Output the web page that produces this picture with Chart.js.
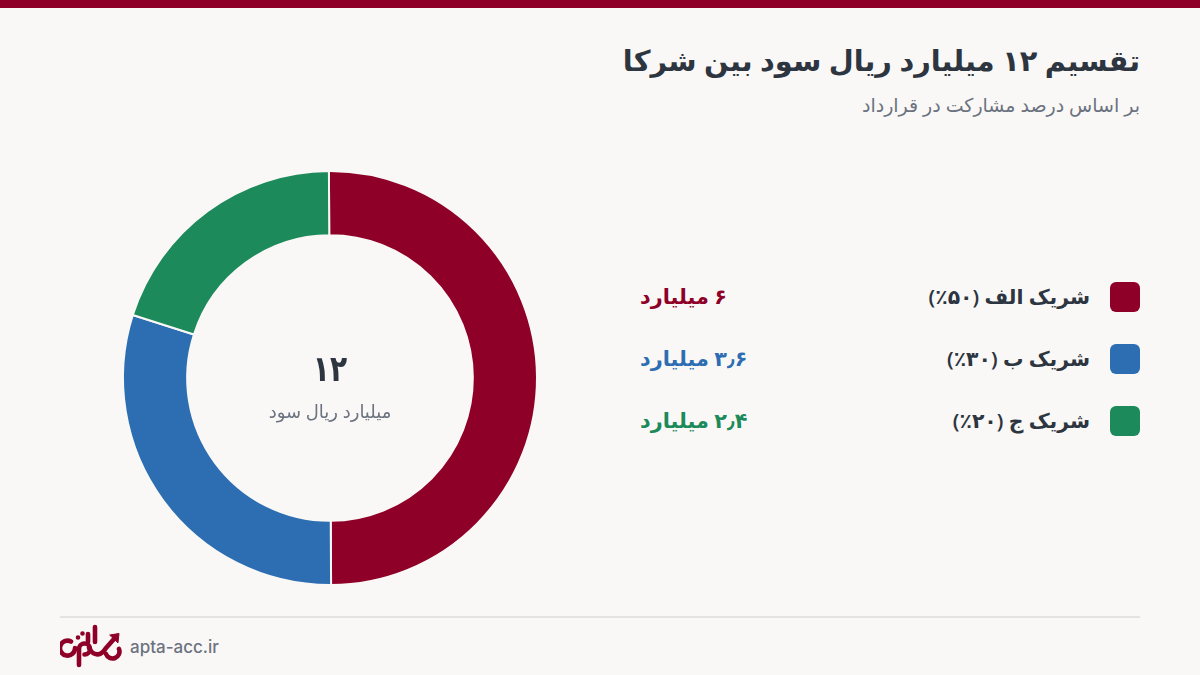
<!DOCTYPE html>
<html lang="fa">
<head>
<meta charset="utf-8">
<title>تقسیم ۱۲ میلیارد ریال سود بین شرکا</title>
<script src="https://cdn.jsdelivr.net/npm/chart.js@4"></script>
<style>
    html, body { margin: 0; padding: 0; }
    body { width: 1200px; height: 675px; position: relative; overflow: hidden; background: #faf8f6; font-family: "Noto Sans", "DejaVu Sans", sans-serif; }
    .topbar { position: absolute; left: 0; top: 0; width: 1200px; height: 8px; background: #8f0028; }
    h1 { position: absolute; right: 60px; top: 38px; margin: 0; font-size: 28.8px; line-height: 44px; font-weight: 700; color: #2d3540; direction: rtl; white-space: nowrap; }
    .sub { position: absolute; right: 60px; top: 91px; font-size: 19px; line-height: 28px; color: #6b7280; direction: rtl; white-space: nowrap; }
    #chartBox { position: absolute; left: 110px; top: 157.5px; width: 440px; height: 440px; }
    .center { position: absolute; left: 230px; width: 200px; text-align: center; direction: rtl; white-space: nowrap; }
    #centerNum { top: 343px; font-size: 36px; line-height: 50px; font-weight: 700; color: #2d3540; transform: scaleX(0.78); }
    #centerLabel { top: 397px; font-size: 18px; line-height: 28px; color: #6b7280; }
    .swatch { position: absolute; left: 1110px; width: 30px; height: 30px; border-radius: 6px; }
    .name { position: absolute; right: 110px; font-size: 20.4px; line-height: 30px; font-weight: 600; color: #2d3540; direction: rtl; white-space: nowrap; }
    .amount { position: absolute; left: 640px; font-size: 20.8px; line-height: 30px; font-weight: 700; direction: rtl; white-space: nowrap; }
    .footline { position: absolute; left: 60px; top: 616px; width: 1080px; height: 2px; background: #e5e3df; }
    .logo { position: absolute; left: 60px; top: 624px; }
    .site { position: absolute; left: 130px; top: 633px; font-family: Inter, Roboto, sans-serif; font-size: 17px; line-height: 28px; font-weight: 500; color: #6b7280; }
</style>
</head>
<body>
<div class="topbar"></div>
<h1 id="title"></h1>
<div class="sub" id="subtitle"></div>
<div id="chartBox"><canvas id="myChart" width="440" height="440"></canvas></div>
<div class="center" id="centerNum"></div>
<div class="center" id="centerLabel"></div>
<div id="legend"></div>
<div class="footline"></div>
<svg class="logo" width="62" height="44" viewBox="0 0 62 44" fill="none" stroke="#8f0028" stroke-width="4.6" stroke-linecap="round" stroke-linejoin="round">
    <path d="M11 17.5a7.5 7.5 0 1 0 4 6.5"/>
    <path d="M19 41V25a5.5 5.5 0 1 1 5.5 5.5"/>
    <path d="M29 24c5 9 12 8 17 0l8-9"/>
    <path d="M46 30a6.5 6.5 0 0 0 13-5"/>
    <path d="M28 10v8M35 3v15"/>
    <path d="M18 13.5v0M22.5 9.5v0"/>
    <path d="M50 11l9-1.500-1 9z" fill="#8f0028" stroke-width="1"/>
</svg>
<div class="site" id="site"></div>

<script>
const partners = ['شریک الف (۵۰٪)', 'شریک ب (۳۰٪)', 'شریک ج (۲۰٪)'];
const shares = [50, 30, 20];
const amounts = ['۶ میلیارد', '۳٫۶ میلیارد', '۲٫۴ میلیارد'];
const colors = ['#8f0028', '#2d6eb3', '#1c8a5a'];
const titleText = 'تقسیم ۱۲ میلیارد ریال سود بین شرکا';
const subtitleText = 'بر اساس درصد مشارکت در قرارداد';
const centerNumber = '۱۲';
const centerText = 'میلیارد ریال سود';
const siteText = 'apta-acc.ir';

window.addEventListener('load', function() {
    document.getElementById('title').textContent = titleText;
    document.getElementById('subtitle').textContent = subtitleText;
    document.getElementById('centerNum').textContent = centerNumber;
    document.getElementById('centerLabel').textContent = centerText;
    document.getElementById('site').textContent = siteText;
    legendRows();
    chartDonut();
});

function legendRows() {
    const box = document.getElementById('legend');
    for (let i = 0; i < partners.length; i++) {
        const top = 282 + i * 62;

        const swatch = document.createElement('div');
        swatch.className = 'swatch';
        swatch.style.top = top + 'px';
        swatch.style.background = colors[i];
        box.appendChild(swatch);

        const name = document.createElement('div');
        name.className = 'name';
        name.style.top = (top - 1) + 'px';
        name.textContent = partners[i];
        box.appendChild(name);

        const amount = document.createElement('div');
        amount.className = 'amount';
        amount.style.top = (top - 1) + 'px';
        amount.style.color = colors[i];
        amount.textContent = amounts[i];
        box.appendChild(amount);
    }
}

function chartDonut() {
    const ctx = document.getElementById('myChart');
    new Chart(ctx, {
        type: 'doughnut',
        data: {
            labels: partners,
            datasets: [{
                data: shares,
                backgroundColor: colors,
                borderColor: '#faf8f6',
                borderWidth: 2
            }]
        },
        options: {
            responsive: false,
            animation: false,
            cutout: '69%',
            rotation: -0.3,
            layout: { padding: 12 },
            plugins: {
                legend: { display: false },
                tooltip: { enabled: false }
            }
        }
    });
}
</script>
</body>
</html>
